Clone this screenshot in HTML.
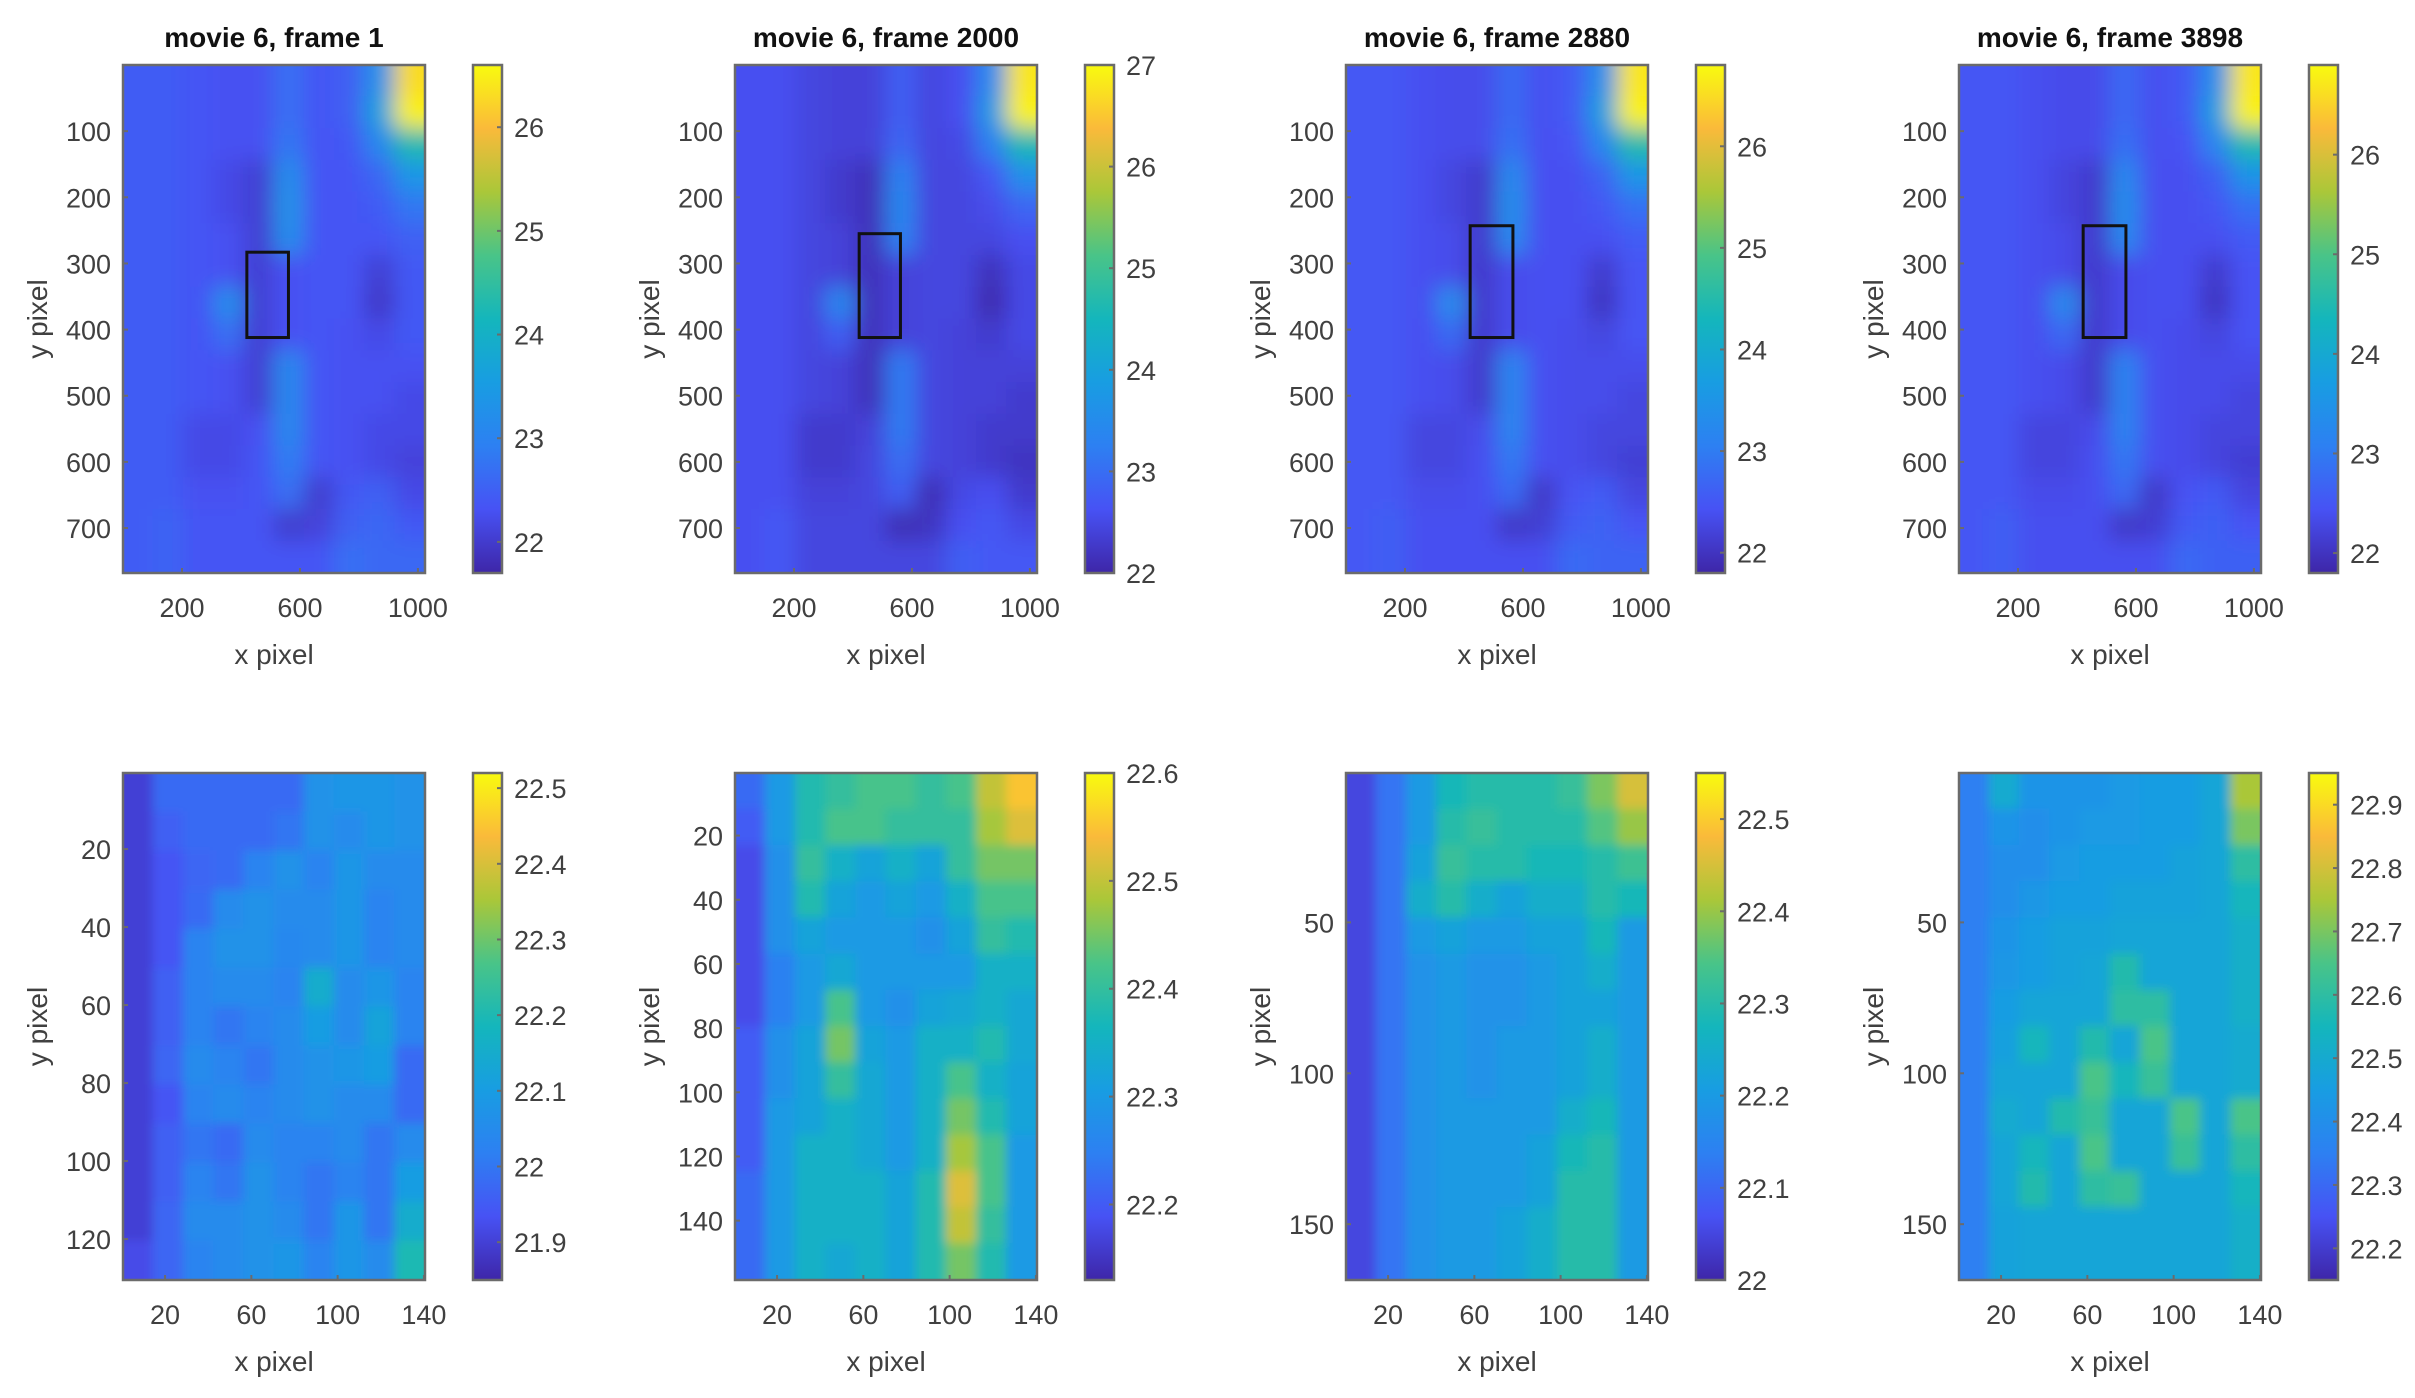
<!DOCTYPE html>
<html><head><meta charset="utf-8"><style>
html,body{margin:0;padding:0;background:#fff;}
svg{display:block;font-family:"Liberation Sans",sans-serif;}
</style></head><body>
<svg id="fig" width="2415" height="1398" viewBox="0 0 2415 1398" xmlns="http://www.w3.org/2000/svg">
<defs>
<linearGradient id="parula" x1="0" y1="1" x2="0" y2="0">
<stop offset="0" stop-color="rgb(62,38,168)"/><stop offset="0.125" stop-color="rgb(71,82,244)"/>
<stop offset="0.25" stop-color="rgb(45,128,242)"/><stop offset="0.375" stop-color="rgb(24,157,226)"/>
<stop offset="0.5" stop-color="rgb(20,182,188)"/><stop offset="0.625" stop-color="rgb(73,196,136)"/>
<stop offset="0.75" stop-color="rgb(170,199,57)"/><stop offset="0.875" stop-color="rgb(250,186,58)"/>
<stop offset="1" stop-color="rgb(249,251,14)"/></linearGradient>
<filter id="blurTop" x="-10%" y="-10%" width="120%" height="120%"><feGaussianBlur stdDeviation="11"/></filter>
<filter id="blurBot" x="-10%" y="-10%" width="120%" height="120%"><feGaussianBlur stdDeviation="5"/></filter>
</defs>
</svg>
<script>
const top1=[[22.45,22.45,22.35,22.3,22.3,22.7,22.35,22.5,23.3,26.3],[22.45,22.45,22.35,22.3,22.3,22.7,22.35,22.5,23.6,26.5],[22.45,22.45,22.35,22.3,22.3,22.8,22.35,22.4,23.1,24.3],[22.45,22.45,22.35,22.2,22.05,23.2,22.35,22.35,22.6,23.4],[22.45,22.45,22.35,22.2,22.05,23.3,22.35,22.35,22.45,22.8],[22.45,22.45,22.35,22.3,22.05,23.2,22.35,22.35,22.35,22.5],[22.45,22.45,22.35,22.3,22.05,22.3,22.35,22.35,22.05,22.4],[22.45,22.45,22.35,23.2,22.05,22.3,22.35,22.35,21.95,22.4],[22.45,22.45,22.35,22.7,22.05,22.3,22.35,22.3,22.2,22.4],[22.45,22.45,22.35,22.3,22.05,23.1,22.35,22.3,22.3,22.3],[22.45,22.45,22.35,22.3,22.05,23.1,22.35,22.3,22.3,22.2],[22.45,22.45,22.2,22.2,22.3,23.1,22.35,22.3,22.2,22.2],[22.45,22.45,22.2,22.2,22.35,22.9,22.35,22.3,22.2,22.1],[22.45,22.45,22.3,22.3,22.35,22.7,22.0,22.4,22.5,22.2],[22.45,22.55,22.35,22.35,22.35,22.0,22.1,22.5,22.6,22.4],[22.45,22.55,22.35,22.35,22.35,22.35,22.35,22.7,22.6,22.6]];
const top2=[[22.6,22.6,22.45,22.4,22.4,22.8,22.45,22.6,23.5,26.8],[22.6,22.6,22.45,22.4,22.4,22.8,22.45,22.6,23.8,26.9],[22.6,22.6,22.45,22.4,22.4,22.9,22.45,22.5,23.3,24.6],[22.6,22.6,22.45,22.3,22.15,23.3,22.45,22.45,22.7,23.6],[22.6,22.6,22.45,22.3,22.15,23.4,22.45,22.45,22.55,22.9],[22.6,22.6,22.45,22.4,22.15,23.3,22.45,22.45,22.45,22.6],[22.6,22.6,22.45,22.4,22.15,22.4,22.45,22.45,22.15,22.5],[22.6,22.6,22.45,23.4,22.15,22.4,22.45,22.45,22.05,22.5],[22.6,22.6,22.45,22.8,22.15,22.4,22.45,22.4,22.3,22.5],[22.6,22.6,22.45,22.4,22.15,23.2,22.45,22.4,22.4,22.4],[22.6,22.6,22.45,22.4,22.15,23.2,22.45,22.4,22.4,22.3],[22.6,22.6,22.3,22.3,22.4,23.2,22.45,22.4,22.3,22.3],[22.6,22.6,22.3,22.3,22.45,23.0,22.45,22.4,22.3,22.2],[22.6,22.6,22.4,22.4,22.45,22.8,22.1,22.5,22.6,22.3],[22.6,22.7,22.45,22.45,22.45,22.1,22.2,22.6,22.7,22.5],[22.6,22.7,22.45,22.45,22.45,22.45,22.45,22.8,22.7,22.7]];
const top3=[[22.5,22.5,22.4,22.35,22.35,22.75,22.4,22.55,23.4,26.6],[22.5,22.5,22.4,22.35,22.35,22.75,22.4,22.55,23.7,26.7],[22.5,22.5,22.4,22.35,22.35,22.85,22.4,22.45,23.2,24.5],[22.5,22.5,22.4,22.25,22.1,23.25,22.4,22.4,22.65,23.5],[22.5,22.5,22.4,22.25,22.1,23.35,22.4,22.4,22.5,22.85],[22.5,22.5,22.4,22.35,22.1,23.25,22.4,22.4,22.4,22.55],[22.5,22.5,22.4,22.35,22.1,22.35,22.4,22.4,22.1,22.45],[22.5,22.5,22.4,23.3,22.1,22.35,22.4,22.4,22.0,22.45],[22.5,22.5,22.4,22.75,22.1,22.35,22.4,22.35,22.25,22.45],[22.5,22.5,22.4,22.35,22.1,23.15,22.4,22.35,22.35,22.35],[22.5,22.5,22.4,22.35,22.1,23.15,22.4,22.35,22.35,22.25],[22.5,22.5,22.25,22.25,22.35,23.15,22.4,22.35,22.25,22.25],[22.5,22.5,22.25,22.25,22.4,22.95,22.4,22.35,22.25,22.15],[22.5,22.5,22.35,22.35,22.4,22.75,22.05,22.45,22.55,22.25],[22.5,22.6,22.4,22.4,22.4,22.05,22.15,22.55,22.65,22.45],[22.5,22.6,22.4,22.4,22.4,22.4,22.4,22.75,22.65,22.65]];
const top4=[[22.5,22.5,22.4,22.35,22.35,22.75,22.4,22.55,23.4,26.7],[22.5,22.5,22.4,22.35,22.35,22.75,22.4,22.55,23.7,26.8],[22.5,22.5,22.4,22.35,22.35,22.85,22.4,22.45,23.2,24.5],[22.5,22.5,22.4,22.25,22.1,23.25,22.4,22.4,22.65,23.5],[22.5,22.5,22.4,22.25,22.1,23.35,22.4,22.4,22.5,22.85],[22.5,22.5,22.4,22.35,22.1,23.25,22.4,22.4,22.4,22.55],[22.5,22.5,22.4,22.35,22.1,22.35,22.4,22.4,22.1,22.45],[22.5,22.5,22.4,23.3,22.1,22.35,22.4,22.4,22.0,22.45],[22.5,22.5,22.4,22.75,22.1,22.35,22.4,22.35,22.25,22.45],[22.5,22.5,22.4,22.35,22.1,23.15,22.4,22.35,22.35,22.35],[22.5,22.5,22.4,22.35,22.1,23.15,22.4,22.35,22.35,22.25],[22.5,22.5,22.25,22.25,22.35,23.15,22.4,22.35,22.25,22.25],[22.5,22.5,22.25,22.25,22.4,22.95,22.4,22.35,22.25,22.15],[22.5,22.5,22.35,22.35,22.4,22.75,22.05,22.45,22.55,22.25],[22.5,22.6,22.4,22.4,22.4,22.05,22.15,22.55,22.65,22.45],[22.5,22.6,22.4,22.4,22.4,22.4,22.4,22.75,22.65,22.65]];
const bot1=[[21.9,21.98,21.98,21.98,21.98,21.98,22.07,22.08,22.08,22.07],[21.9,21.96,21.98,21.98,21.98,22.0,22.07,22.05,22.08,22.07],[21.9,21.94,21.97,21.98,22.03,22.07,22.03,22.08,22.05,22.05],[21.9,21.94,21.98,22.05,22.07,22.05,22.05,22.08,22.03,22.05],[21.9,21.94,22.03,22.07,22.07,22.04,22.05,22.08,22.03,22.05],[21.9,21.96,22.03,22.05,22.05,22.03,22.15,22.05,22.08,22.03],[21.9,21.96,22.03,22.0,22.03,22.05,22.1,22.05,22.12,22.03],[21.9,21.97,22.05,22.03,22.0,22.05,22.07,22.08,22.1,21.98],[21.9,21.94,22.03,22.05,22.03,22.05,22.07,22.05,22.05,21.98],[21.9,21.96,22.0,21.98,22.05,22.03,22.03,22.05,22.0,22.05],[21.9,21.96,22.03,22.0,22.07,22.03,22.0,22.03,22.0,22.1],[21.9,21.97,22.05,22.05,22.07,22.05,22.0,22.08,22.0,22.15],[21.92,21.97,22.03,22.05,22.07,22.08,22.03,22.08,22.05,22.2]];
const bot2=[[22.22,22.3,22.38,22.4,22.42,22.42,22.4,22.42,22.5,22.55],[22.2,22.3,22.38,22.42,22.42,22.4,22.4,22.4,22.48,22.52],[22.18,22.28,22.4,22.35,22.32,22.35,22.32,22.4,22.45,22.45],[22.18,22.28,22.38,22.32,22.3,22.32,22.3,22.35,22.42,22.42],[22.18,22.28,22.32,22.3,22.3,22.3,22.28,22.32,22.4,22.38],[22.18,22.25,22.3,22.33,22.3,22.3,22.3,22.3,22.35,22.35],[22.18,22.25,22.3,22.42,22.3,22.28,22.32,22.33,22.35,22.33],[22.2,22.28,22.32,22.45,22.32,22.3,22.35,22.35,22.38,22.33],[22.2,22.28,22.32,22.4,22.33,22.3,22.35,22.42,22.35,22.32],[22.2,22.3,22.32,22.35,22.33,22.3,22.35,22.45,22.38,22.32],[22.2,22.3,22.35,22.35,22.33,22.3,22.35,22.48,22.42,22.3],[22.22,22.3,22.35,22.35,22.35,22.32,22.38,22.52,22.42,22.3],[22.22,22.3,22.35,22.35,22.35,22.32,22.38,22.5,22.4,22.3],[22.22,22.3,22.35,22.33,22.35,22.32,22.38,22.45,22.38,22.3]];
const bot3=[[22.05,22.12,22.2,22.28,22.3,22.3,22.3,22.32,22.38,22.45],[22.05,22.12,22.2,22.3,22.32,22.3,22.3,22.3,22.35,22.4],[22.05,22.12,22.22,22.32,22.3,22.3,22.28,22.28,22.3,22.33],[22.05,22.12,22.25,22.3,22.25,22.22,22.25,22.25,22.3,22.28],[22.05,22.12,22.2,22.22,22.2,22.2,22.22,22.22,22.28,22.2],[22.05,22.12,22.18,22.2,22.18,22.18,22.2,22.22,22.25,22.2],[22.05,22.12,22.18,22.2,22.18,22.18,22.2,22.22,22.22,22.2],[22.05,22.12,22.18,22.2,22.18,22.2,22.2,22.22,22.25,22.2],[22.05,22.12,22.18,22.2,22.18,22.2,22.2,22.22,22.25,22.2],[22.05,22.12,22.18,22.2,22.2,22.2,22.2,22.25,22.28,22.2],[22.05,22.12,22.18,22.2,22.2,22.2,22.22,22.28,22.3,22.2],[22.05,22.12,22.18,22.2,22.2,22.2,22.22,22.3,22.3,22.2],[22.05,22.12,22.18,22.2,22.2,22.22,22.25,22.3,22.3,22.2],[22.05,22.12,22.18,22.2,22.2,22.22,22.25,22.3,22.3,22.2]];
const bot4=[[22.35,22.5,22.42,22.42,22.42,22.44,22.45,22.45,22.48,22.75],[22.35,22.42,22.4,22.42,22.44,22.44,22.45,22.45,22.48,22.7],[22.35,22.4,22.4,22.44,22.45,22.45,22.45,22.47,22.48,22.6],[22.35,22.4,22.43,22.45,22.45,22.47,22.47,22.47,22.48,22.55],[22.35,22.42,22.45,22.47,22.47,22.48,22.48,22.48,22.48,22.52],[22.35,22.43,22.45,22.47,22.48,22.58,22.48,22.48,22.48,22.52],[22.35,22.45,22.48,22.48,22.48,22.6,22.6,22.48,22.48,22.52],[22.35,22.46,22.55,22.48,22.58,22.48,22.65,22.48,22.48,22.5],[22.35,22.48,22.48,22.48,22.65,22.55,22.62,22.48,22.48,22.5],[22.35,22.5,22.48,22.58,22.62,22.48,22.48,22.65,22.48,22.65],[22.35,22.48,22.55,22.48,22.65,22.48,22.48,22.62,22.48,22.6],[22.35,22.48,22.58,22.48,22.6,22.62,22.48,22.48,22.48,22.55],[22.35,22.47,22.48,22.48,22.48,22.48,22.48,22.48,22.48,22.52],[22.35,22.47,22.48,22.48,22.48,22.48,22.48,22.48,22.48,22.52]];
const titles=["movie 6, frame 1","movie 6, frame 2000","movie 6, frame 2880","movie 6, frame 3898"];
const topClim=[[21.7,26.6],[22,27],[21.8,26.8],[21.8,26.9]];
const botClim=[[21.85,22.52],[22.13,22.6],[22.0,22.55],[22.15,22.95]];
const topCticks=[[22,23,24,25,26],[22,23,24,25,26,27],[22,23,24,25,26],[22,23,24,25,26]];
const botCticks=[[21.9,22,22.1,22.2,22.3,22.4,22.5],[22.2,22.3,22.4,22.5,22.6],[22,22.1,22.2,22.3,22.4,22.5],[22.2,22.3,22.4,22.5,22.6,22.7,22.8,22.9]];
const topXlim=[0,1024], topYlim=[0,768];
const topXticks=[200,600,1000], topYticks=[100,200,300,400,500,600,700];
const botXlim=[0.5,140.5];
const botYlims=[[0.5,130.5],[0.5,158.5],[0.5,168.5],[0.5,168.5]];
const botXticks=[20,60,100,140];
const botYticks=[[20,40,60,80,100,120],[20,40,60,80,100,120,140],[50,100,150],[50,100,150]];
const rects=[[420,283,561,412],[421,255,561,412],[421,243,566,412],[421,243,566,412]];

const stops=[[62,38,168],[71,82,244],[45,128,242],[24,157,226],[20,182,188],[73,196,136],[170,199,57],[250,186,58],[249,251,14]];
function parula(t){t=Math.max(0,Math.min(1,t))*8;const i=Math.min(7,Math.floor(t)),f=t-i,a=stops[i],b=stops[i+1];
return `rgb(${Math.round(a[0]+(b[0]-a[0])*f)},${Math.round(a[1]+(b[1]-a[1])*f)},${Math.round(a[2]+(b[2]-a[2])*f)})`;}
const NS="http://www.w3.org/2000/svg", svg=document.getElementById('fig');
function mk(tag,attrs,parent,text){const e=document.createElementNS(NS,tag);for(const k in attrs)e.setAttribute(k,attrs[k]);if(text!==undefined)e.textContent=text;(parent||svg).appendChild(e);return e;}
const colX=[123,735,1346,1959], W=302;
function panel(idx,row,grid,clim,xlim,ylim,xt,yt,ct,title,rect){
  const L=colX[idx], T=row===0?65:773, H=row===0?508:507;
  const g=mk('g',{});
  
  
  const xs=v=>L+(v-xlim[0])/(xlim[1]-xlim[0])*W, ys=v=>T+(v-ylim[0])/(ylim[1]-ylim[0])*H;
  const cid='clip'+row+idx; const cp=mk('clipPath',{id:cid},g); mk('rect',{x:L,y:T,width:W,height:H},cp);
  const cg=mk('g',{'clip-path':`url(#${cid})`},g);
  const hg=mk('g',{filter:row===0?'url(#blurTop)':'url(#blurBot)'},cg);
  
  
  const nr=grid.length,nc=grid[0].length, E=40;
  for(let r=0;r<nr;r++)for(let c=0;c<nc;c++){
    const x0=xlim[0]+(xlim[1]-xlim[0])*c/nc, x1=xlim[0]+(xlim[1]-xlim[0])*(c+1)/nc;
    const y0=ylim[0]+(ylim[1]-ylim[0])*r/nr, y1=ylim[0]+(ylim[1]-ylim[0])*(r+1)/nr;
    let px0=xs(x0)-0.5, px1=xs(x1)+0.5, py0=ys(y0)-0.5, py1=ys(y1)+0.5;
    if(c===0)px0-=E; if(c===nc-1)px1+=E; if(r===0)py0-=E; if(r===nr-1)py1+=E;
    const cell=mk('rect',{x:px0,y:py0,width:px1-px0,height:py1-py0,fill:parula((grid[r][c]-clim[0])/(clim[1]-clim[0]))},hg);
    
    
  }
  if(rect){const rr=mk('rect',{x:xs(rect[0]),y:ys(rect[1]),width:xs(rect[2])-xs(rect[0]),height:ys(rect[3])-ys(rect[1]),fill:'none',stroke:'#111',"stroke-width":3},g);
    
    }
  const box=mk('rect',{x:L,y:T,width:W,height:H,fill:'none',stroke:'#6b6b6b',"stroke-width":2.5},g);
  
  
  xt.forEach(v=>{const x=xs(v);mk('line',{x1:x,x2:x,y1:T+H,y2:T+H-5,stroke:'#6b6b6b','stroke-width':2},g);
    const t=mk('text',{x:x,y:T+H+44,'font-size':27,'text-anchor':'middle',fill:'#404040'},g,String(v));
    
    });
  yt.forEach(v=>{const y=ys(v);mk('line',{x1:L,x2:L+5,y1:y,y2:y,stroke:'#6b6b6b','stroke-width':2},g);
    const t=mk('text',{x:L-12,y:y+10,'font-size':27,'text-anchor':'end',fill:'#404040'},g,String(v));
    
    });
  const xl=mk('text',{x:L+W/2,y:T+H+91,'font-size':28,'text-anchor':'middle',fill:'#404040'},g,'x pixel');
  
  
  const yl=mk('text',{x:0,y:0,'font-size':28,'text-anchor':'middle',fill:'#404040',transform:`translate(${L-76},${T+H/2}) rotate(-90)`},g,'y pixel');
  
  
  if(title){const tt=mk('text',{x:L+W/2,y:47,'font-size':28,'font-weight':'bold','text-anchor':'middle',fill:'#111'},g,title);
    
    }
  const CL=L+350, CW=29;
  const cb=mk('rect',{x:CL,y:T,width:CW,height:H,fill:'url(#parula)',stroke:'#6b6b6b','stroke-width':2.5},g);
  
  
  const cs=v=>T+H-(v-clim[0])/(clim[1]-clim[0])*H;
  ct.forEach(v=>{const y=cs(v);mk('line',{x1:CL+CW,x2:CL+CW-5,y1:y,y2:y,stroke:'#6b6b6b','stroke-width':2},g);
    const t=mk('text',{x:CL+CW+12,y:y+10,'font-size':27,fill:'#404040'},g,String(v));
    
    });
}
const tops=[top1,top2,top3,top4], bots=[bot1,bot2,bot3,bot4];
for(let i=0;i<4;i++){
  panel(i,0,tops[i],topClim[i],topXlim,topYlim,topXticks,topYticks,topCticks[i],titles[i],rects[i]);
  panel(i,1,bots[i],botClim[i],botXlim,botYlims[i],botXticks,botYticks[i],botCticks[i],null,null);
}
</script>
</body></html>
